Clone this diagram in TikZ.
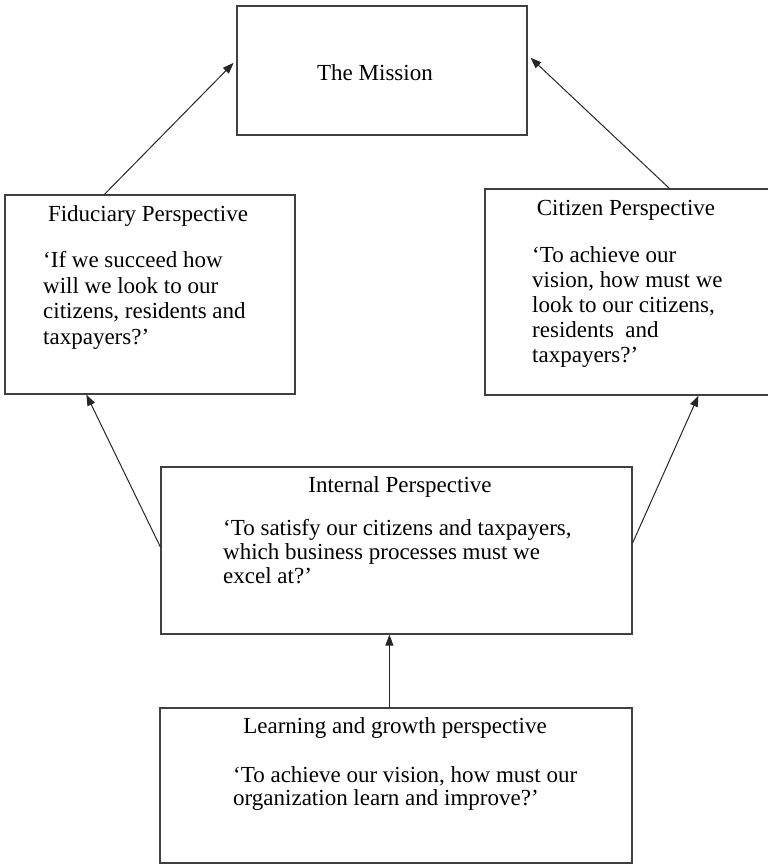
\documentclass[tikz,border=0pt]{standalone}
\usepackage{fontspec}
\setmainfont{Liberation Serif}
\usetikzlibrary{arrows.meta}
\begin{document}
\begin{tikzpicture}[x=1pt,y=-1pt,>={Triangle[length=11pt,width=8pt]},
    box/.style={draw=black!75,line width=1.2pt,inner sep=0pt},
    hdr/.style={anchor=base,inner sep=0pt,font=\fontsize{23}{25}\selectfont},
    body/.style={anchor=north west,inner sep=0pt,align=left,font=\fontsize{23}{25}\selectfont},
    link/.style={->,draw=black!85,line width=1pt}]
    \useasboundingbox (0,0) rectangle (768,865);
    % the five boxes
    \node[box,minimum width=290pt,minimum height=129pt] (mission) at (382,70.5) {};
    \node[box,minimum width=290pt,minimum height=199pt] (fid) at (150,294.5) {};
    \node[box,minimum width=287pt,minimum height=206pt] (cit) at (628.5,292) {};
    \node[box,minimum width=471pt,minimum height=167pt] (int) at (396.5,550.5) {};
    \node[box,minimum width=472pt,minimum height=155pt] (learn) at (396,785.5) {};
    % titles
    \node[hdr] (missiontxt) at (375,80) {The Mission};
    \node[hdr] (fidtitle) at (148,221) {Fiduciary Perspective};
    \node[hdr] (cittitle) at (626,215) {Citizen Perspective};
    \node[hdr] (inttitle) at (400,492) {Internal Perspective};
    \node[hdr] (learntitle) at (395,733) {Learning and growth perspective};
    % questions
    \node[body,font=\fontsize{23}{25.7}\selectfont] (fidq) at (43,251) {`If we succeed how\\will we look to our\\citizens, residents and\\taxpayers?'};
    \node[body] (citq) at (532,246) {`To achieve our\\vision, how must we\\look to our citizens,\\residents\ \ and\\taxpayers?'};
    \node[body,font=\fontsize{23}{24}\selectfont] (intq) at (223,519) {`To satisfy our citizens and taxpayers,\\which business processes must we\\excel at?'};
    \node[body,font=\fontsize{23}{23}\selectfont] (learnq) at (233,766) {`To achieve our vision, how must our\\organization learn and improve?'};
    % arrows
    \draw[link,shorten >=4pt] ([xshift=100pt]fid.north west) -- ([yshift=10.5pt]mission.west);
    \draw[link,shorten >=4pt] ([xshift=185pt]cit.north west) -- ([yshift=15.5pt]mission.east);
    \draw[link] ([yshift=3.5pt]int.west) -- ([xshift=82pt]fid.south west);
    \draw[link] ([yshift=7.5pt]int.east) -- ([xshift=214pt]cit.south west);
    \draw[link] ([xshift=230pt]learn.north west) -- ([xshift=229pt]int.south west);
\end{tikzpicture}
\end{document}
